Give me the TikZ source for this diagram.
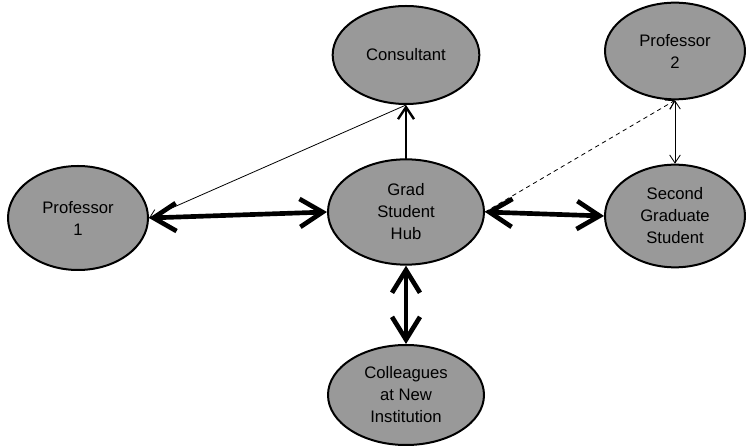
\documentclass[tikz,border=0pt]{standalone}
\usepackage{fontspec}
\setmainfont{Liberation Sans}
\usetikzlibrary{shapes.geometric,arrows.meta}
\begin{document}
\begin{tikzpicture}[x=0.75pt,y=-0.75pt,line cap=round,line join=round]
  \tikzset{actor/.style={ellipse,draw=black,line width=1.5pt,fill=black!40,
      inner sep=0pt,align=center,font=\fontsize{12.5}{16.5}\selectfont},
    bigbarb/.tip={Straight Barb[length=17pt,width=21pt]},
    smallbarb/.tip={Straight Barb[length=6pt,width=8pt]},
    strong/.style={line width=3.5pt,{bigbarb}-{bigbarb}},
    weak/.style={line width=0.6pt}}
  \useasboundingbox (0,0) rectangle (746,448);
  % People around the hub; sizes.
  \node[actor,minimum width=110pt,minimum height=73.5pt] (cons) at (406,55) {Consultant};
  \node[actor,minimum width=105pt,minimum height=72.5pt] (prof2) at (675,51) {Professor\\2};
  \node[actor,minimum width=105pt,minimum height=78pt] (prof1) at (78,218) {Professor\\1};
  \node[actor,minimum width=117pt,minimum height=79pt] (hub) at (406,212) {Grad\\Student\\Hub};
  \node[actor,minimum width=105pt,minimum height=77pt] (second) at (675,216) {Second\\Graduate\\Student};
  \node[actor,minimum width=117pt,minimum height=75pt] (coll) at (406,395) {Colleagues\\at New\\Institution};
  % Thick two-way links to the hub.
  \draw[strong] (prof1.east) -- (hub.west);
  \draw[strong] (hub.east) -- (second.west);
  \draw[strong] (hub.south) -- (coll.north);
  % Weaker ties.
  \draw[line width=1.8pt,-{Straight Barb[length=9pt,width=12pt]}] (hub.north) -- (cons.south);
  \draw[weak,{smallbarb}-] (prof1.east) -- (cons.south);
  \draw[weak,dashed,-{smallbarb}] (hub.east) -- (prof2.south);
  \draw[weak,{smallbarb}-{smallbarb}] (prof2.south) -- (second.north);
\end{tikzpicture}
\end{document}
